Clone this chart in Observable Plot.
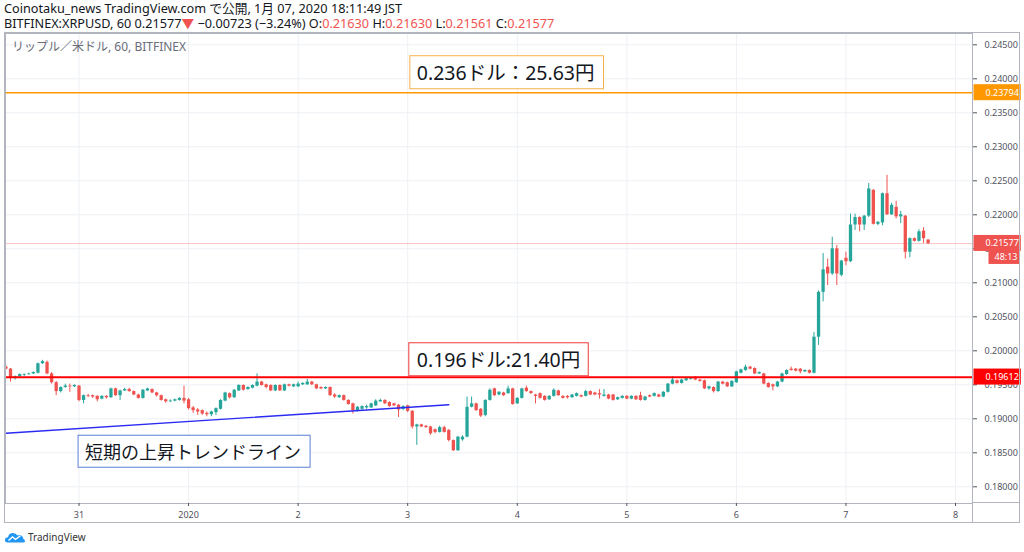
<!DOCTYPE html>
<html><head><meta charset="utf-8">
<script src="https://cdn.jsdelivr.net/npm/d3@7"></script>
<script src="https://cdn.jsdelivr.net/npm/@observablehq/plot@0.6"></script>
<style>
html,body{margin:0;padding:0;background:#fff;}
#wrap{position:relative;width:1024px;height:552px;overflow:hidden;font-family:"Noto Sans","Noto Sans CJK JP",sans-serif;color:#131722;}
.hdr{position:absolute;left:4px;font-size:12.7px;line-height:15px;white-space:nowrap;}
.r{color:#ef5350;}
#sym{position:absolute;left:12px;top:39px;font-size:12px;line-height:15px;color:#6a6d78;white-space:nowrap;}
#chart{position:absolute;left:0;top:33px;}
.ln{position:absolute;background:#b2b5be;}
#foot{position:absolute;left:5px;top:530px;font-size:10px;line-height:14px;color:#333;white-space:nowrap;display:flex;align-items:center;gap:3px;}
</style></head>
<body><div id="wrap">
<div class="hdr" id="h1" style="top:1px"></div>
<div class="hdr" id="h2" style="top:16px"></div>
<div id="chart"></div>
<div id="sym"></div>
<div class="ln" style="left:4px;top:32px;width:1016px;height:1px"></div>
<div class="ln" style="left:4px;top:522px;width:1016px;height:1px"></div>
<div class="ln" style="left:4px;top:32px;width:1px;height:491px"></div>
<div class="ln" style="left:1019px;top:32px;width:1px;height:491px"></div>
<div class="ln" style="left:972px;top:502px;width:48px;height:1px"></div>
<div class="ln" style="left:972px;top:502px;width:1px;height:21px"></div>
<div id="foot"><svg width="20" height="12" viewBox="0 0 20 12"><path d="M2.5 11.5 Q0 11.5 0 9 Q0 6.3 3 6.2 Q4 2 8 2 Q11 2 12.5 4.6 Q14.3 3.6 16.2 4.6 Q18.4 5.8 18.4 8 Q20 8.6 20 10 Q20 11.5 18.3 11.5 Z" fill="#2196f3"/><polyline points="3.5,9.5 7.5,6 10.5,8.3 15.5,4.8" stroke="#fff" fill="none" stroke-width="1.4"/></svg><span>TradingView</span></div>
</div>
<script>
// ---------- data ----------
const headerLine1 = "Coinotaku_news TradingView.com で公開, 1月 07, 2020 18:11:49 JST";
const symbolName = "BITFINEX:XRPUSD, 60";
const changeText = "−0.00723 (−3.24%)";
const paneTitle = "リップル／米ドル, 60, BITFINEX";
const countdown = "48:13";
const firstCandle = Date.UTC(2019, 11, 30, 8); // JST wall-clock, hourly bars
const dayTicks = d3.range(0, 9).map(i => new Date(Date.UTC(2019, 11, 31 + i)));
const priceTicks = [0.180,0.185,0.190,0.195,0.200,0.205,0.210,0.215,0.220,0.225,0.230,0.235,0.240,0.245];
const resistance = 0.23794;
const support = 0.19612;
const lastPrice = 0.21577;

const open = [
0.1976,0.1973,0.1959,0.1962,0.1964,0.1965,0.1966,0.1967,0.1981,0.1983,
0.1966,0.1953,0.1940,0.1946,0.1948,0.1947,0.1948,0.1927,0.1934,0.1934,
0.1933,0.1929,0.1933,0.1931,0.1944,0.1934,0.1941,0.1943,0.1940,0.1935,
0.1930,0.1941,0.1943,0.1938,0.1934,0.1928,0.1925,0.1926,0.1927,0.1930,
0.1928,0.1916,0.1913,0.1912,0.1908,0.1906,0.1909,0.1914,0.1926,0.1937,
0.1931,0.1941,0.1949,0.1943,0.1945,0.1948,0.1954,0.1950,0.1949,0.1941,
0.1949,0.1941,0.1950,0.1947,0.1947,0.1950,0.1950,0.1954,0.1950,0.1946,
0.1944,0.1946,0.1935,0.1931,0.1934,0.1927,0.1922,0.1912,0.1914,0.1916,
0.1916,0.1919,0.1925,0.1927,0.1924,0.1922,0.1920,0.1914,0.1919,0.1911,
0.1888,0.1891,0.1889,0.1888,0.1884,0.1880,0.1887,0.1883,0.1868,0.1853,
0.1869,0.1873,0.1917,0.1922,0.1914,0.1905,0.1927,0.1944,0.1935,0.1938,
0.1937,0.1944,0.1922,0.1930,0.1945,0.1940,0.1935,0.1937,0.1933,0.1928,
0.1933,0.1941,0.1933,0.1933,0.1931,0.1933,0.1934,0.1933,0.1940,0.1938,
0.1937,0.1933,0.1935,0.1935,0.1928,0.1930,0.1933,0.1929,0.1933,0.1934,
0.1927,0.1934,0.1933,0.1935,0.1932,0.1939,0.1951,0.1956,0.1952,0.1956,
0.1958,0.1961,0.1957,0.1956,0.1944,0.1946,0.1940,0.1954,0.1953,0.1947,
0.1953,0.1967,0.1971,0.1976,0.1974,0.1966,0.1966,0.1952,0.1950,0.1947,
0.1954,0.1965,0.1973,0.1973,0.1973,0.1969,0.1971,0.1967,0.2020,0.2086,
0.2123,0.2113,0.2150,0.2111,0.2136,0.2131,0.2185,0.2196,0.2185,0.2198,
0.2236,0.2186,0.2188,0.2231,0.2200,0.2211,0.2197,0.2198,0.2145,0.2165,
0.2161,0.2176,0.21630];
const high = [
0.1978,0.1974,0.1963,0.1966,0.1966,0.1967,0.1969,0.1982,0.1986,0.1985,
0.1968,0.1955,0.1947,0.1951,0.1951,0.1950,0.1949,0.1935,0.1936,0.1935,
0.1934,0.1934,0.1934,0.1945,0.1945,0.1942,0.1945,0.1945,0.1941,0.1936,
0.1943,0.1945,0.1944,0.1939,0.1935,0.1929,0.1928,0.1929,0.1931,0.1948,
0.1930,0.1918,0.1915,0.1913,0.1910,0.1911,0.1916,0.1928,0.1939,0.1938,
0.1943,0.1950,0.1950,0.1947,0.1950,0.1966,0.1955,0.1951,0.1950,0.1950,
0.1950,0.1951,0.1951,0.1951,0.1954,0.1953,0.1958,0.1955,0.1951,0.1947,
0.1947,0.1947,0.1937,0.1935,0.1935,0.1928,0.1923,0.1918,0.1919,0.1920,
0.1923,0.1928,0.1929,0.1928,0.1925,0.1923,0.1921,0.1919,0.1920,0.1912,
0.1892,0.1892,0.1890,0.1889,0.1885,0.1889,0.1889,0.1884,0.1869,0.1874,
0.1875,0.1932,0.1932,0.1923,0.1915,0.1928,0.1944,0.1945,0.1940,0.1939,
0.1948,0.1945,0.1931,0.1945,0.1948,0.1941,0.1936,0.1938,0.1934,0.1934,
0.1944,0.1942,0.1934,0.1934,0.1936,0.1938,0.1935,0.1942,0.1941,0.1939,
0.1943,0.1943,0.1936,0.1936,0.1932,0.1934,0.1934,0.1934,0.1934,0.1939,
0.1933,0.1935,0.1938,0.1936,0.1940,0.1952,0.1962,0.1957,0.1958,0.1960,
0.1961,0.1962,0.1958,0.1957,0.1948,0.1947,0.1955,0.1955,0.1954,0.1956,
0.1970,0.1973,0.1979,0.1977,0.1975,0.1969,0.1967,0.1953,0.1951,0.1955,
0.1967,0.1972,0.1976,0.1974,0.1974,0.1972,0.1972,0.2027,0.2088,0.2143,
0.2135,0.2167,0.2155,0.2133,0.2145,0.2201,0.2201,0.2197,0.2199,0.2246,
0.2237,0.2190,0.2232,0.2258,0.2217,0.2220,0.2205,0.2199,0.2166,0.2166,
0.2178,0.2181,0.21630];
const low = [
0.1972,0.1954,0.1957,0.1961,0.1962,0.1964,0.1965,0.1966,0.1980,0.1965,
0.1951,0.1934,0.1938,0.1945,0.1939,0.1946,0.1925,0.1922,0.1931,0.1930,
0.1925,0.1928,0.1929,0.1930,0.1933,0.1927,0.1940,0.1939,0.1934,0.1929,
0.1929,0.1940,0.1937,0.1932,0.1926,0.1923,0.1924,0.1925,0.1926,0.1922,
0.1913,0.1908,0.1905,0.1905,0.1903,0.1903,0.1905,0.1913,0.1925,0.1929,
0.1930,0.1940,0.1941,0.1942,0.1944,0.1947,0.1948,0.1944,0.1940,0.1940,
0.1940,0.1940,0.1947,0.1946,0.1946,0.1949,0.1949,0.1949,0.1943,0.1943,
0.1943,0.1933,0.1930,0.1930,0.1926,0.1920,0.1907,0.1910,0.1912,0.1914,
0.1915,0.1918,0.1924,0.1921,0.1917,0.1918,0.1902,0.1912,0.1909,0.1885,
0.1861,0.1887,0.1886,0.1876,0.1878,0.1879,0.1879,0.1866,0.1852,0.1852,
0.1867,0.1872,0.1916,0.1911,0.1902,0.1903,0.1926,0.1933,0.1934,0.1933,
0.1936,0.1920,0.1921,0.1929,0.1939,0.1936,0.1922,0.1929,0.1926,0.1927,
0.1932,0.1933,0.1929,0.1929,0.1930,0.1932,0.1931,0.1932,0.1934,0.1934,
0.1929,0.1932,0.1928,0.1926,0.1927,0.1929,0.1928,0.1928,0.1927,0.1926,
0.1926,0.1931,0.1932,0.1931,0.1931,0.1938,0.1950,0.1951,0.1951,0.1955,
0.1957,0.1956,0.1954,0.1943,0.1942,0.1938,0.1939,0.1950,0.1946,0.1946,
0.1952,0.1966,0.1970,0.1972,0.1965,0.1965,0.1950,0.1945,0.1941,0.1946,
0.1953,0.1964,0.1970,0.1969,0.1966,0.1968,0.1966,0.1966,0.2008,0.2072,
0.2096,0.2111,0.2096,0.2109,0.2125,0.2130,0.2177,0.2175,0.2177,0.2196,
0.2185,0.2184,0.2184,0.2199,0.2199,0.2194,0.2187,0.2135,0.2137,0.2160,
0.2160,0.2158,0.21561];
const close = [
0.1973,0.1959,0.1962,0.1965,0.1965,0.1966,0.1968,0.1981,0.1984,0.1966,
0.1953,0.1940,0.1946,0.1948,0.1947,0.1949,0.1927,0.1934,0.1933,0.1932,
0.1928,0.1933,0.1931,0.1944,0.1934,0.1941,0.1943,0.1940,0.1935,0.1930,
0.1942,0.1944,0.1938,0.1934,0.1927,0.1925,0.1926,0.1928,0.1930,0.1926,
0.1915,0.1912,0.1910,0.1907,0.1906,0.1910,0.1915,0.1927,0.1938,0.1931,
0.1942,0.1949,0.1942,0.1946,0.1949,0.1954,0.1949,0.1946,0.1941,0.1949,
0.1941,0.1950,0.1948,0.1950,0.1951,0.1952,0.1954,0.1950,0.1944,0.1944,
0.1946,0.1934,0.1932,0.1934,0.1927,0.1921,0.1912,0.1917,0.1918,0.1918,
0.1922,0.1926,0.1927,0.1922,0.1918,0.1919,0.1913,0.1918,0.1911,0.1888,
0.1891,0.1888,0.1887,0.1878,0.1880,0.1887,0.1880,0.1868,0.1853,0.1873,
0.1873,0.1917,0.1922,0.1912,0.1904,0.1927,0.1942,0.1934,0.1939,0.1934,
0.1944,0.1921,0.1930,0.1944,0.1940,0.1937,0.1933,0.1930,0.1927,0.1933,
0.1942,0.1934,0.1930,0.1931,0.1935,0.1937,0.1932,0.1940,0.1935,0.1935,
0.1935,0.1935,0.1929,0.1927,0.1931,0.1933,0.1929,0.1933,0.1928,0.1927,
0.1932,0.1932,0.1937,0.1932,0.1939,0.1951,0.1957,0.1952,0.1957,0.1959,
0.1960,0.1957,0.1955,0.1944,0.1947,0.1940,0.1954,0.1951,0.1947,0.1955,
0.1969,0.1972,0.1976,0.1973,0.1966,0.1968,0.1951,0.1946,0.1947,0.1954,
0.1966,0.1971,0.1971,0.1970,0.1969,0.1971,0.1967,0.2020,0.2086,0.2119,
0.2113,0.2150,0.2113,0.2132,0.2131,0.2185,0.2196,0.2185,0.2198,0.2238,
0.2186,0.2189,0.2231,0.2200,0.2214,0.2197,0.2200,0.2145,0.2165,0.2161,
0.2175,0.2165,0.21577];

const trend = [
  {t: new Date(Date.UTC(2019, 11, 30, 8)), p: 0.18788},
  {t: new Date(Date.UTC(2020, 0, 3, 9)), p: 0.19206}
];
const notes = [
  {label: "0.236ドル：25.63円", t: new Date(Date.UTC(2020, 0, 3, 2)), p: 0.24078},
  {label: "0.196ドル:21.40円", t: new Date(Date.UTC(2020, 0, 3, 2)), p: 0.19857},
  {label: "短期の上昇トレンドライン", t: new Date(Date.UTC(2019, 11, 31, 1, 20)), p: 0.18490}
];

// ---------- build ----------
const HOUR = 3600e3;
const candles = open.map((o, i) => ({t: new Date(firstCandle + i * HOUR), o, h: high[i], l: low[i], c: close[i]}));
const up = candles.filter(d => d.c >= d.o);
const down = candles.filter(d => d.c < d.o);
const last = candles[candles.length - 1];
const f5 = d3.format(".5f");

document.getElementById("h1").textContent = headerLine1;
document.getElementById("h2").innerHTML =
  `${symbolName} ${f5(last.c)}<span class="r">▼</span> ${changeText} O:<span class="r">${f5(last.o)}</span> H:<span class="r">${f5(last.h)}</span> L:<span class="r">${f5(last.l)}</span> C:<span class="r">${f5(last.c)}</span>`;
document.getElementById("sym").textContent = paneTitle;

const GREEN = "#26a69a", RED = "#ef5350";
const LAT = "'Noto Sans', 'Noto Sans CJK JP', sans-serif";
const JP = "'Noto Sans CJK JP', 'Noto Sans', sans-serif";
const fmtDay = d => (d.getUTCMonth() === 0 && d.getUTCDate() === 1) ? "2020" : String(d.getUTCDate());

const chart = Plot.plot({
  width: 1024, height: 490,
  marginLeft: 5, marginRight: 52, marginTop: 0, marginBottom: 20,
  style: {background: "#fff", fontFamily: "'Noto Sans', sans-serif", overflow: "visible"},
  x: {type: "utc", domain: [dayTicks[0], dayTicks[8]], range: [78.5, 955], label: null},
  y: {domain: [0.180, 0.245], range: [453.3, 11.3], label: null},
  marks: [
    Plot.ruleX(dayTicks, {stroke: "#eef0f5"}),
    Plot.ruleY(priceTicks, {stroke: "#eef0f5"}),
    Plot.ruleY([lastPrice], {stroke: "#ef5350", strokeOpacity: 0.35, strokeWidth: 1}),
    Plot.ruleX(up, {x: "t", y1: "l", y2: "h", stroke: GREEN, strokeWidth: 1, clip: true}),
    Plot.ruleX(up, {x: "t", y1: "o", y2: "c", stroke: GREEN, strokeWidth: 3.3, clip: true}),
    Plot.ruleX(down, {x: "t", y1: "l", y2: "h", stroke: RED, strokeWidth: 1, clip: true}),
    Plot.ruleX(down, {x: "t", y1: "o", y2: "c", stroke: RED, strokeWidth: 3.3, clip: true}),
    Plot.line(trend, {x: "t", y: "p", stroke: "#2a2af2", strokeWidth: 1.4, clip: true}),
    Plot.ruleY([resistance], {stroke: "#ff9800", strokeWidth: 1.5}),
    Plot.ruleY([support], {stroke: "#ff0000", strokeWidth: 2}),
    Plot.frame({stroke: "#b2b5be"}),
    Plot.axisY({anchor: "right", ticks: priceTicks, tickFormat: f5, tickSize: 4, tickPadding: 8, fontSize: 9, color: "#50535e", label: null}),
    Plot.axisX({ticks: dayTicks, tickFormat: fmtDay, tickSize: 3, tickPadding: 5, fontSize: 9, color: "#50535e", label: null}),
    Plot.text([notes[0]], {x: "t", y: "p", text: "label", textAnchor: "start", lineAnchor: "middle", fontSize: 19.5, fill: "#131722", fontFamily: LAT}),
    Plot.text([notes[1]], {x: "t", y: "p", text: "label", textAnchor: "start", lineAnchor: "middle", fontSize: 19.5, fill: "#131722", fontFamily: LAT}),
    Plot.text([notes[2]], {x: "t", y: "p", text: "label", textAnchor: "start", lineAnchor: "middle", fontSize: 18, fill: "#131722", fontFamily: JP}),
    Plot.text([resistance], {y: d => d, text: d => f5(d), frameAnchor: "right", dx: 13, textAnchor: "start", lineAnchor: "middle", fill: "#fff", fontSize: 9}),
    Plot.text([support], {y: d => d, text: d => f5(d), frameAnchor: "right", dx: 13, textAnchor: "start", lineAnchor: "middle", fill: "#fff", fontSize: 9}),
    Plot.text([lastPrice], {y: d => d, text: d => f5(d), frameAnchor: "right", dx: 13, textAnchor: "start", lineAnchor: "middle", fill: "#fff", fontSize: 9}),
    Plot.text([lastPrice], {y: d => d, text: () => countdown, frameAnchor: "right", dx: 45, dy: 14, textAnchor: "end", lineAnchor: "middle", fill: "#fff", fontSize: 9})
  ]
});
document.getElementById("chart").appendChild(chart);

// boxes behind annotation texts and price tags (matched by their text)
function boxify(str, o) {
  chart.querySelectorAll("text").forEach(t => {
    if (t.textContent !== str) return;
    const b = t.getBBox();
    const r = document.createElementNS("http://www.w3.org/2000/svg", "rect");
    r.setAttribute("x", b.x - o.l);
    r.setAttribute("y", b.y - o.t);
    r.setAttribute("width", b.width + o.l + o.r);
    r.setAttribute("height", b.height + o.t + o.b);
    r.setAttribute("fill", o.fill);
    if (o.stroke) { r.setAttribute("stroke", o.stroke); r.setAttribute("stroke-width", 1); }
    const tr = t.getAttribute("transform");
    if (tr) r.setAttribute("transform", tr);
    t.parentNode.insertBefore(r, t);
  });
}
boxify(notes[0].label, {l: 7, r: 9, t: 3, b: 3, fill: "#fff", stroke: "#f9b04a"});
boxify(notes[1].label, {l: 8, r: 8, t: 3, b: 3, fill: "#fff", stroke: "#f03a3a"});
boxify(notes[2].label, {l: 7, r: 9, t: 3, b: 3, fill: "#fff", stroke: "#5b7fd6"});
boxify(f5(resistance), {l: 12, r: 2, t: 1.5, b: 1.5, fill: "#ff9800"});
boxify(f5(support), {l: 12, r: 2, t: 1.5, b: 1.5, fill: "#ff0000"});
boxify(f5(lastPrice), {l: 12, r: 2, t: 1.5, b: 1.5, fill: "#ef5350"});
boxify(countdown, {l: 6, r: 2, t: 1, b: 0.5, fill: "#ef5350"});
</script>
</body></html>
